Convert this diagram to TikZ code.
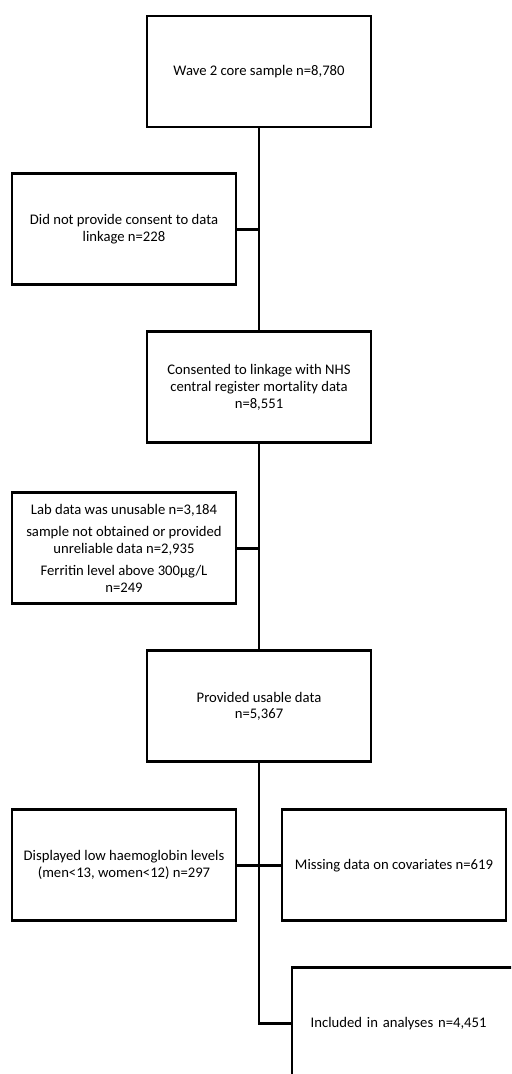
\documentclass[tikz,border=0pt]{standalone}
\usepackage{fontspec}
\setmainfont{Carlito}
\usetikzlibrary{positioning}

\begin{document}
\begin{tikzpicture}
			[x=0.75pt, y=-0.75pt, node distance=33pt,
			box/.style={draw, rectangle, line width=2.2pt, minimum width=168pt, minimum height=83.25pt, inner xsep=0.5pt, align=center, font=\fontsize{11}{12.6}\selectfont},
			link/.style={line width=2.2pt}]
			\useasboundingbox (0,0) rectangle (511,1074);
			\clip (0,0) rectangle (511,1074);
			% nodes %
			\node[box] (wave) at (259,71.5) {Wave 2 core sample n=8,780};
			\node[box, below=of wave, xshift=-101.25pt] (consent) {Did not provide consent to data\\ linkage n=228};
			\node[box, below=of consent, xshift=101.25pt] (nhs) {Consented to linkage with NHS\\ central register mortality data\\ n=8,551};
			\node[box, below=35.3pt of nhs, xshift=-101.25pt] (lab) {Lab data was unusable n=3,184\\[4pt] sample not obtained or provided\\ unreliable data n=2,935\\[4pt] Ferritin level above 300µg/L\\ n=249};
			\node[box, below=of lab, xshift=101.25pt] (usable) {Provided usable data\\ n=5,367};
			\node[box, below=33.8pt of usable, xshift=-101.25pt] (haemo) {Displayed low haemoglobin levels\\ (men<13, women<12) n=297};
			\node[box, right=32.3pt of haemo] (missing) {Missing data on covariates n=619};
			\node[box, below=of haemo, xshift=210pt, text width=140pt, align=left, inner xsep=14pt] (incl) {Included in analyses n=4,451};

			% edges %
			\draw[link] (wave) -- (nhs);
			\draw[link] (nhs) -- (usable);
			\draw[link] (usable.south) |- (incl.west);
			\draw[link] (consent.east) -- (consent.east -| wave.south);
			\draw[link] (lab.east) -- (lab.east -| nhs.south);
			\draw[link] (haemo) -- (missing);
\end{tikzpicture}
\end{document}
